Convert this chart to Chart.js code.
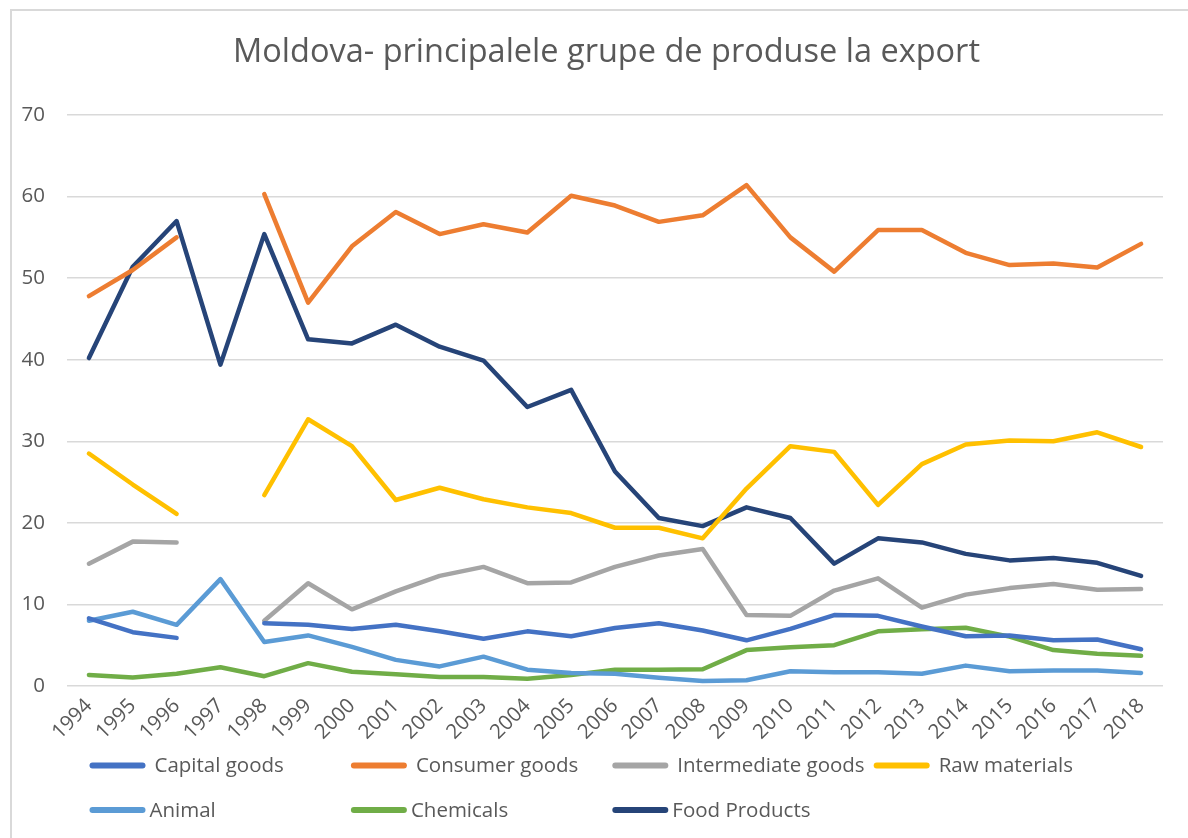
<!DOCTYPE html>
<html>
<head>
<meta charset="utf-8">
<script src="https://cdn.jsdelivr.net/npm/chart.js@4/dist/chart.umd.min.js"></script>
<style>
  html, body { margin: 0; padding: 0; background: #ffffff; }
  #wrap { position: relative; width: 1188px; height: 838px; overflow: hidden; }
  #frame { position: absolute; left: 10px; top: 9px; width: 1300px; height: 1000px;
           border-left: 2px solid #d9d9d9; border-top: 2px solid #d9d9d9; }
  canvas { position: absolute; left: 0; top: 0; }
</style>
</head>
<body>
<div id="wrap">
  <div id="frame"></div>
  <canvas id="c" width="1188" height="838"></canvas>
</div>
<script>
const titleText = "Moldova- principalele grupe de produse la export";
const years = ["1994","1995","1996","1997","1998","1999","2000","2001","2002","2003","2004","2005","2006","2007","2008","2009","2010","2011","2012","2013","2014","2015","2016","2017","2018"];
const yTicks = [0, 10, 20, 30, 40, 50, 60, 70];

const capitalGoods      = [8.3, 6.6, 5.9, null, 7.7, 7.5, 7.0, 7.5, 6.7, 5.8, 6.7, 6.1, 7.1, 7.7, 6.8, 5.6, 7.0, 8.7, 8.6, 7.3, 6.1, 6.2, 5.6, 5.7, 4.5];
const consumerGoods     = [47.8, 51.0, 55.0, null, 60.3, 47.0, 53.9, 58.1, 55.4, 56.6, 55.6, 60.1, 58.9, 56.9, 57.7, 61.4, 55.0, 50.8, 55.9, 55.9, 53.1, 51.6, 51.8, 51.3, 54.2];
const intermediateGoods = [15.0, 17.7, 17.6, null, 8.0, 12.6, 9.4, 11.6, 13.5, 14.6, 12.6, 12.7, 14.6, 16.0, 16.8, 8.7, 8.6, 11.7, 13.2, 9.6, 11.2, 12.0, 12.5, 11.8, 11.9];
const rawMaterials      = [28.5, 24.7, 21.1, null, 23.4, 32.7, 29.4, 22.8, 24.3, 22.9, 21.9, 21.2, 19.4, 19.4, 18.1, 24.2, 29.4, 28.7, 22.2, 27.2, 29.6, 30.1, 30.0, 31.1, 29.3];
const animal            = [8.0, 9.1, 7.5, 13.1, 5.4, 6.2, 4.8, 3.2, 2.4, 3.6, 2.0, 1.6, 1.5, 1.0, 0.6, 0.7, 1.8, 1.7, 1.7, 1.5, 2.5, 1.8, 1.9, 1.9, 1.6];
const chemicals         = [1.35, 1.05, 1.5, 2.3, 1.2, 2.8, 1.75, 1.45, 1.1, 1.1, 0.9, 1.35, 2.0, 2.0, 2.05, 4.4, 4.75, 5.0, 6.7, 6.95, 7.15, 6.05, 4.4, 3.95, 3.7];
const foodProducts      = [40.2, 51.4, 57.0, 39.4, 55.4, 42.5, 42.0, 44.3, 41.6, 39.9, 34.2, 36.3, 26.3, 20.6, 19.6, 21.9, 20.6, 15.0, 18.1, 17.6, 16.2, 15.4, 15.7, 15.1, 13.5];

const seriesNames = ["Capital goods", "Consumer goods", "Intermediate goods", "Raw materials", "Animal", "Chemicals", "Food Products"];
const seriesColors = ["#4472C4", "#ED7D31", "#A5A5A5", "#FFC000", "#5B9BD5", "#70AD47", "#264478"];
const seriesData = [capitalGoods, consumerGoods, intermediateGoods, rawMaterials, animal, chemicals, foodProducts];

const FONT = "'Open Sans', 'Noto Sans', sans-serif";
const TEXT_COLOR = "#595959";

const datasets = seriesNames.map((name, i) => ({
  label: name,
  data: seriesData[i],
  borderColor: seriesColors[i],
  backgroundColor: seriesColors[i],
  borderWidth: 4.5,
  borderCapStyle: 'round',
  borderJoinStyle: 'round',
  pointRadius: 0,
  pointHoverRadius: 0,
  tension: 0,
  spanGaps: false,
  fill: false
}));

// Title drawn at the position it has in the reference (centred over x≈606)
const fixedTitle = {
  id: 'fixedTitle',
  afterDraw(chart) {
    const ctx = chart.ctx;
    ctx.save();
    ctx.font = "32.5px " + FONT;
    ctx.fillStyle = TEXT_COLOR;
    ctx.textAlign = 'center';
    ctx.textBaseline = 'middle';
    ctx.fillText(titleText, 606.5, 52.5);
    ctx.restore();
  }
};

// Custom legend in a fixed-column grid (like the Excel legend)
const gridLegend = {
  id: 'gridLegend',
  afterDraw(chart) {
    const ctx = chart.ctx;
    const colStart = 89.5, colStep = 261.4, symLen = 56;
    const rows = [765.5, 810];
    const textGap = [9, 4];
    ctx.save();
    ctx.font = "20.5px " + FONT;
    ctx.textBaseline = 'middle';
    ctx.textAlign = 'left';
    chart.data.datasets.forEach((ds, i) => {
      const r = i < 4 ? 0 : 1;
      const c = i < 4 ? i : i - 4;
      const x = colStart + c * colStep;
      const y = rows[r];
      ctx.strokeStyle = ds.borderColor;
      ctx.lineWidth = 6;
      ctx.lineCap = 'round';
      ctx.beginPath();
      ctx.moveTo(x + 3, y);
      ctx.lineTo(x + symLen - 3, y);
      ctx.stroke();
      ctx.fillStyle = TEXT_COLOR;
      ctx.fillText(ds.label, x + symLen + textGap[r], y + 1);
    });
    ctx.restore();
  }
};

new Chart(document.getElementById('c'), {
  type: 'line',
  data: { labels: years, datasets: datasets },
  plugins: [fixedTitle, gridLegend],
  options: {
    responsive: false,
    animation: false,
    layout: { padding: { left: 0, right: 25, top: 115, bottom: 82 } },
    plugins: {
      legend: { display: false },
      tooltip: { enabled: false },
      title: { display: false }
    },
    scales: {
      x: {
        offset: true,
        grid: { display: false, drawTicks: false },
        border: { display: false },
        ticks: {
          color: TEXT_COLOR,
          font: { family: FONT, size: 20.5 },
          minRotation: 45,
          maxRotation: 45,
          autoSkip: false,
          padding: 8
        },
        afterFit(scale) { scale.height = 70; }
      },
      y: {
        min: 0,
        max: 70,
        afterBuildTicks(scale) { scale.ticks = yTicks.map(v => ({ value: v })); },
        grid: { color: "#d9d9d9", lineWidth: 1.5, drawTicks: false },
        border: { display: false },
        ticks: {
          color: TEXT_COLOR,
          font: { family: FONT, size: 20.5 },
          padding: 22
        },
        afterFit(scale) { scale.width = 67; }
      }
    }
  }
});
</script>
</body>
</html>
